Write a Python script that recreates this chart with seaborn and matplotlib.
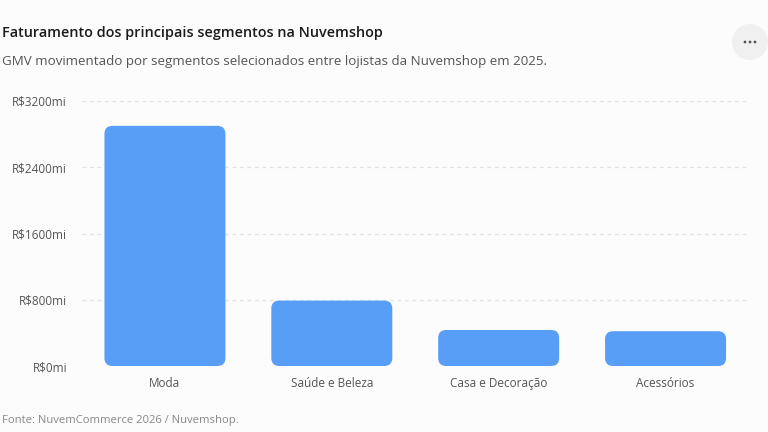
import matplotlib
matplotlib.use("Agg")
import matplotlib.pyplot as plt
import seaborn as sns
import pandas as pd
from matplotlib.patches import FancyBboxPatch, Circle

categories = ["Moda", "Saúde e Beleza", "Casa e Decoração", "Acessórios"]
values = [2900, 790, 435, 420]
yticks = [0, 800, 1600, 2400, 3200]
ytick_labels = ["R$0mi", "R$800mi", "R$1600mi", "R$2400mi", "R$3200mi"]

sns.set_theme(style="white")
plt.rcParams['font.family'] = ['Open Sans', 'DejaVu Sans']

bg = "#fcfcfc"
fig = plt.figure(figsize=(7.68, 4.32), dpi=100, facecolor=bg)
ax_left, ax_right, ax_top, ax_bot = 81.5, 749, 101, 366
ax = fig.add_axes([ax_left/768, 1 - ax_bot/432, (ax_right - ax_left)/768, (ax_bot - ax_top)/432])
ax.set_facecolor(bg)

df = pd.DataFrame({"cat": categories, "val": values})
sns.barplot(data=df, x="cat", y="val", ax=ax, color="#579cf6", width=0.725, saturation=1)

px_per_x = (ax_right - ax_left) / 4.0
px_per_y = (ax_bot - ax_top) / 3200.0
aspect = px_per_x / px_per_y
radius_px = 8
patches = list(ax.patches)
for p in patches:
    x, y, w, h = p.get_x(), p.get_y(), p.get_width(), p.get_height()
    p.remove()
    rb = FancyBboxPatch((x, y), w, h,
                        boxstyle=f"round,pad=0,rounding_size={radius_px/px_per_x}",
                        mutation_aspect=aspect,
                        facecolor="#589df6", edgecolor="none", zorder=3)
    ax.add_patch(rb)

ax.set_ylim(0, 3200)
ax.set_xlim(-0.5, 3.5)
ax.set_yticks(yticks)
ax.set_yticklabels(ytick_labels)
ax.set_xlabel("")
ax.set_ylabel("")
for s in ax.spines.values():
    s.set_visible(False)
ax.tick_params(axis="y", length=0, labelsize=8.5, colors="#555555", pad=10.5)
ax.tick_params(axis="x", length=0, labelsize=8.5, colors="#555555", pad=8)
ax.yaxis.grid(True, color="#e3e3e3", linestyle=(0, (3, 3)), linewidth=0.9, zorder=0)
ax.set_axisbelow(True)

fig.text(2/768, 1 - 33/432, "Faturamento dos principais segmentos na Nuvemshop",
         fontsize=10.4, fontweight=600, color="#1a1a1a", va="center", ha="left")
fig.text(2/768, 1 - 62/432, "GMV movimentado por segmentos selecionados entre lojistas da Nuvemshop em 2025.",
         fontsize=9.6, color="#555555", va="center", ha="left")
fig.text(2/768, 1 - 421/432, "Fonte: NuvemCommerce 2026 / Nuvemshop.",
         fontsize=8.1, color="#888888", va="center", ha="left")

# menu button
circ = Circle((7.50, 4.32 - 0.42), 0.18, transform=fig.dpi_scale_trans,
              facecolor="#f0f0f0", edgecolor="none")
fig.patches.append(circ)
for dx in (-5, 0, 5):
    fig.patches.append(Circle((7.50 + dx/100, 4.32 - 0.42), 0.014, transform=fig.dpi_scale_trans,
                              facecolor="#555555", edgecolor="none"))

fig.savefig("out.png", dpi=100, facecolor=bg)
